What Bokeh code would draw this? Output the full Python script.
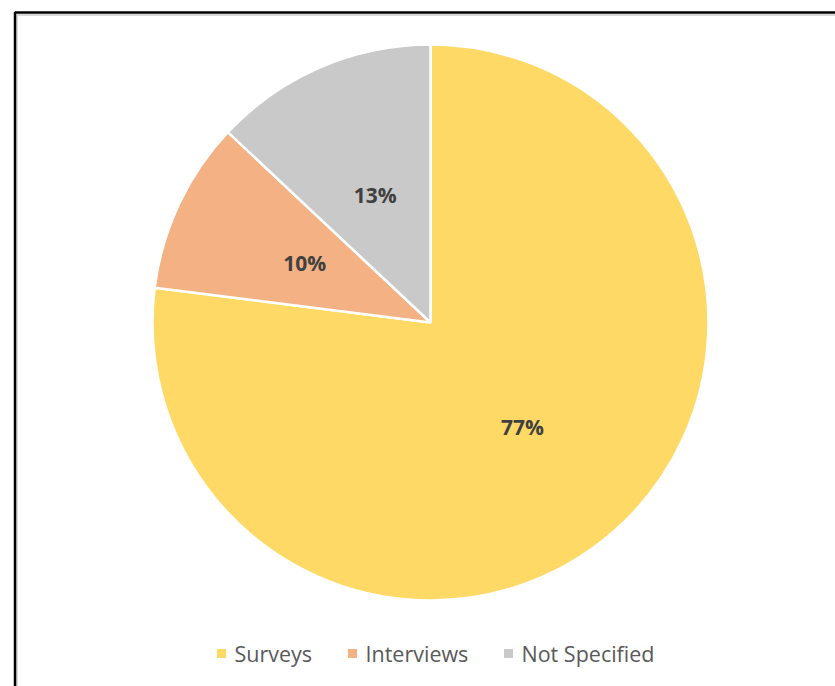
import numpy as np
from bokeh.plotting import figure
from bokeh.models import ColumnDataSource, Range1d
from bokeh.core.properties import value
from bokeh.embed import file_html
from bokeh.resources import INLINE

# Data
categories = ["Surveys", "Interviews", "Not Specified"]
shares = [77, 10, 13]
colors = ["#FFD966", "#F4B183", "#C9C9C9"]

W, H = 835, 686
cx, cy = 430, H - 322
radius = 278

p = figure(width=W, height=H, output_backend="svg", toolbar_location=None,
           x_range=Range1d(0, W), y_range=Range1d(0, H), min_border=0)
p.axis.visible = False
p.grid.visible = False
p.outline_line_color = None
p.background_fill_color = "white"

# Wedges run clockwise from 12 o'clock
frac = np.array(shares, dtype=float) / sum(shares)
cum = np.concatenate([[0], np.cumsum(frac)])
start = np.pi / 2 - cum[:-1] * 2 * np.pi
end = np.pi / 2 - cum[1:] * 2 * np.pi
mid = (start + end) / 2

src = ColumnDataSource(dict(cat=categories, share=shares, color=colors,
                            start=start, end=end,
                            lx=cx + 0.5 * radius * np.cos(mid),
                            ly=cy + 0.5 * radius * np.sin(mid),
                            label=[f"{s}%" for s in shares]))

p.wedge(x=cx, y=cy, radius=radius, start_angle="start", end_angle="end",
        direction="clock", fill_color="color", line_color="white",
        line_width=2.5, source=src)

p.text(x="lx", y="ly", text="label", source=src, text_align="center",
       text_baseline="middle", text_font=value("Open Sans"),
       text_font_style="bold", text_font_size="21px", text_color="#404040")

# Legend row
leg_x = [221, 352, 508]
leg_y = H - 653
lsrc = ColumnDataSource(dict(x=leg_x, tx=[x + 13 for x in leg_x],
                             y=[leg_y] * 3, cat=categories, color=colors))
p.scatter(x="x", y="y", marker="square", size=9, fill_color="color",
          line_color=None, source=lsrc)
p.text(x="tx", y="y", text="cat", source=lsrc, text_align="left",
       text_baseline="middle", text_font=value("Open Sans"),
       text_font_size="21.5px", text_color="#595959")

# Chart frame
p.line(x=[16.5, 16.5, W + 5], y=[-5, H - 14.5, H - 14.5], line_color="#D9D9D9", line_width=2)
p.line(x=[14.5, 14.5, W + 5], y=[-5, H - 12, H - 12], line_color="black", line_width=2.5)

open("out.html", "w").write(file_html(p, INLINE))
